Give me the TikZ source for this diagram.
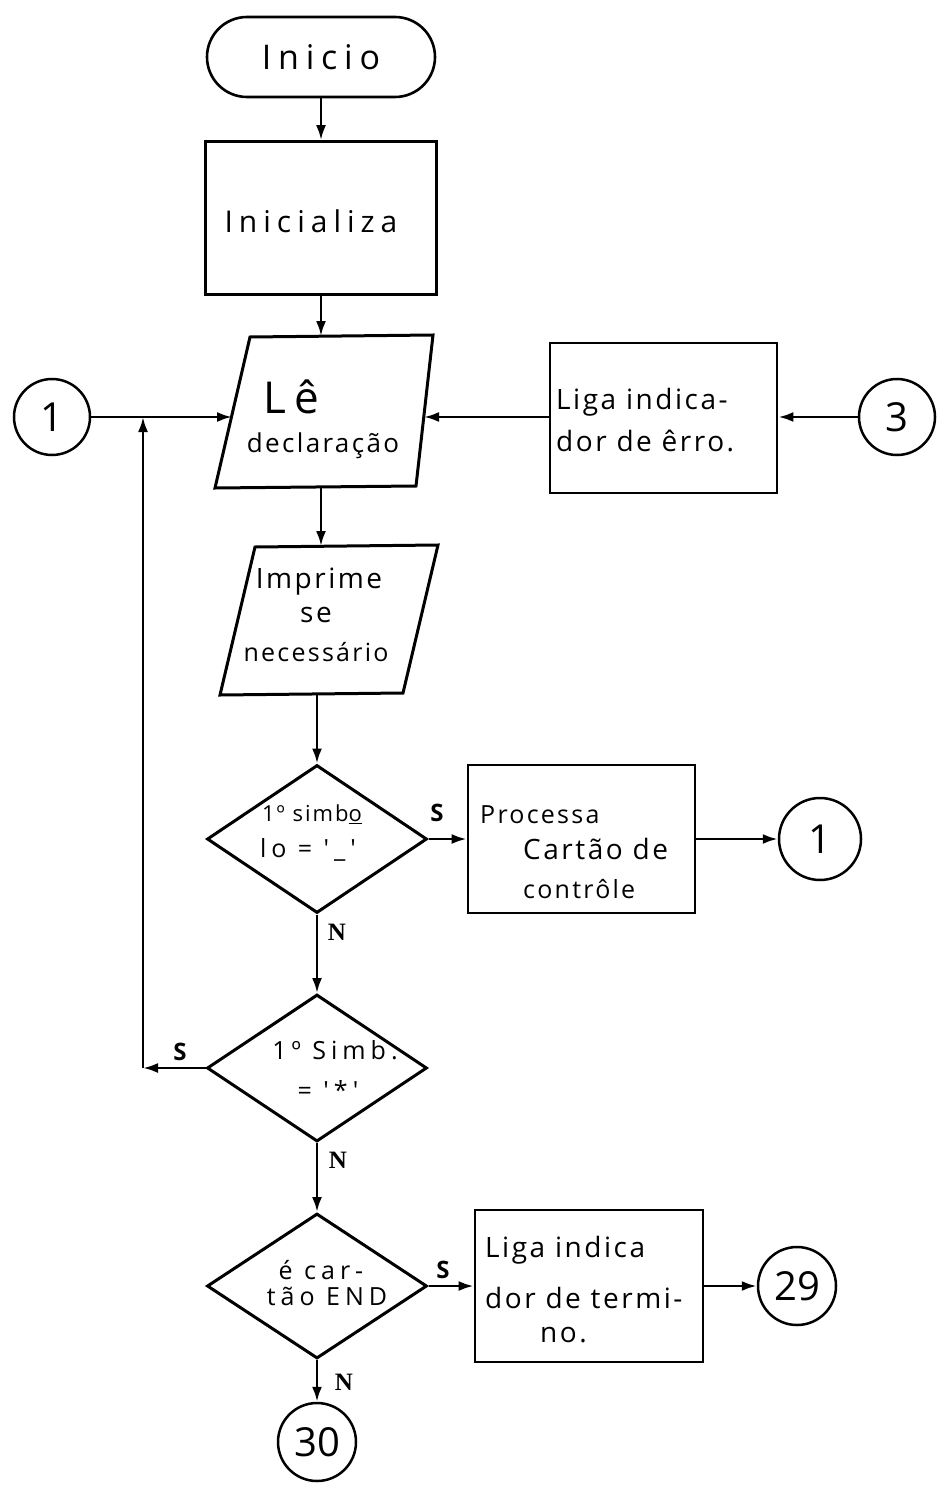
\documentclass[tikz,border=0pt]{standalone}
\usepackage{fontspec}
\setmainfont{Open Sans}
\newfontfamily\hand[LetterSpace=9]{Open Sans}
\newfontfamily\handw[LetterSpace=20]{Open Sans}
\newfontfamily\serifN{Liberation Serif}
\usetikzlibrary{shapes.geometric,arrows.meta}
\begin{document}
\begin{tikzpicture}[x=1pt,y=-1pt,
  every node/.style={inner sep=0pt},
  box/.style={draw, line width=2.8pt, rectangle},
  conn/.style={draw, circle, line width=2.5pt, font=\fontsize{40}{40}\selectfont},
  dia/.style={draw, diamond, line width=3pt, minimum width=220pt},
  ln/.style={line width=2.6pt},
  arr/.style={line width=2.6pt, -{Latex[length=15pt,width=10pt]}},
  tx/.style={font=\hand\fontsize{28}{28}\selectfont},
  txm/.style={font=\hand\fontsize{25}{25}\selectfont},
  txs/.style={font=\hand\fontsize{22}{22}\selectfont},
  txd/.style={font=\handw\fontsize{25}{25}\selectfont},
  lab/.style={font=\bfseries\fontsize{24}{24}\selectfont},
  labn/.style={font=\serifN\bfseries\fontsize{25}{25}\selectfont}]
\useasboundingbox (0,0) rectangle (947,1495);
\fill[white] (0,0) rectangle (947,1495);

% start
\node[draw, line width=2.6pt, rounded corners=40pt, minimum width=228pt, minimum height=80pt,
      font=\handw\fontsize{34}{34}\selectfont] (ini) at (321,57) {Inicio};
\node[box, minimum width=231pt, minimum height=153pt] (inz) at (321,218) {};
\node[font=\handw\fontsize{30}{30}\selectfont] (inzt) at (311,221) {Inicializa};

% Le declaracao (parallelogram)
\coordinate (leTL) at (250,337);
\coordinate (leTR) at (433,335);
\coordinate (leBR) at (416,486);
\coordinate (leBL) at (215,488);
\draw[line width=3pt, line join=miter] (leTL) -- (leTR) -- (leBR) -- (leBL) -- cycle;
\coordinate (leN) at (321,336);
\coordinate (leS) at (321,487);
\coordinate (leW) at (232,417);
\coordinate (leE) at (424,417);
\node[font=\handw\fontsize{44}{44}\selectfont, anchor=west] (let1) at (263,397) {Lê};
\node[font=\hand\fontsize{26}{26}\selectfont] (let2) at (323,446) {declaração};

% connectors 1 and 3
\node[conn, minimum size=76pt] (c1) at (52,417) {1};
\node[box, minimum width=227pt, minimum height=150pt] (err) at (663.5,418) {};
\node[tx, anchor=west] (errt1) at (556,402) {Liga indica-};
\node[tx, anchor=west] (errt2) at (556,441) {dor de êrro.};
\node[conn, minimum size=76pt] (c3) at (897,417) {3};

% Imprime (parallelogram)
\coordinate (imTL) at (255,547);
\coordinate (imTR) at (438,545);
\coordinate (imBR) at (403,693);
\coordinate (imBL) at (220,695);
\draw[line width=3pt, line join=miter] (imTL) -- (imTR) -- (imBR) -- (imBL) -- cycle;
\coordinate (imN) at (321,546);
\coordinate (imS) at (317,694);
\node[tx] (imt1) at (319,582) {Imprime};
\node[tx] (imt2) at (316,615) {se};
\node[txm] (imt3) at (316,652) {necessário};

% decision 1
\node[dia, minimum height=148pt] (d1) at (317,839) {};
\node[txs] (d1t1) at (312,814) {1º simb\underline{o}};
\node[txd] (d1t2) at (308,850) {lo = '\_'};
\node[box, minimum width=227pt, minimum height=148pt] (p) at (581.5,839) {};
\node[txm, anchor=west] (pt1) at (480,815) {Processa};
\node[tx, anchor=west] (pt2) at (523,849) {Cartão de};
\node[txm, anchor=west] (pt3) at (523,889) {contrôle};
\node[conn, minimum size=82pt] (c1b) at (820,839) {1};

% decision 2
\node[dia, minimum height=147pt] (d2) at (317,1068) {};
\node[txd] (d2t1) at (335,1050) {1º Simb.};
\node[txd] (d2t2) at (328,1090) {= '*'};
\coordinate (k) at (143,1068);
\coordinate (j1) at (143,417);

% decision 3
\node[dia, minimum height=145pt] (d3) at (317,1286) {};
\node[txd] (d3t1) at (321,1270) {é car-};
\node[txd] (d3t2) at (327,1296) {tão END};
\node[box, minimum width=228pt, minimum height=152pt] (t) at (589,1286) {};
\node[tx, anchor=west] (tt1) at (485,1250) {Liga indica};
\node[tx, anchor=west] (tt2) at (485,1298) {dor de termi-};
\node[tx, anchor=west] (tt3) at (540,1335) {no.};
\node[conn, minimum size=78pt] (c29) at (797,1286) {29};
\node[conn, minimum size=78pt] (c30) at (317,1442) {30};

% labels
\node[lab] (s1) at (437,813) {S};
\node[lab] (s2) at (180,1052) {S};
\node[lab] (s3) at (443,1270) {S};
\node[labn] (n1) at (337,932) {N};
\node[labn] (n2) at (338,1160) {N};
\node[labn] (n3) at (344,1382) {N};

% connectors
\draw[arr] (ini.south) -- (inz.north);
\draw[arr] (inz.south) -- (leN);
\draw[ln] (c1.east) -- (j1);
\draw[arr] (j1) -- (leW);
\draw[arr] (c3.west) -- (c3.west -| err.east);
\draw[arr] (err.west |- leE) -- (leE);
\draw[arr] (leS) -- (imN);
\draw[arr] (imS) -- (d1.north);
\draw[arr] (d1.east) -- (p.west);
\draw[arr] (p.east) -- (c1b.west);
\draw[arr] (d1.south) -- (d2.north);
\draw[arr] (d2.west) -- (k);
\draw[arr] (k) -- (j1);
\draw[arr] (d2.south) -- (d3.north);
\draw[arr] (d3.east) -- (t.west);
\draw[arr] (t.east) -- (c29.west);
\draw[arr] (d3.south) -- (c30.north);
\end{tikzpicture}
\end{document}
